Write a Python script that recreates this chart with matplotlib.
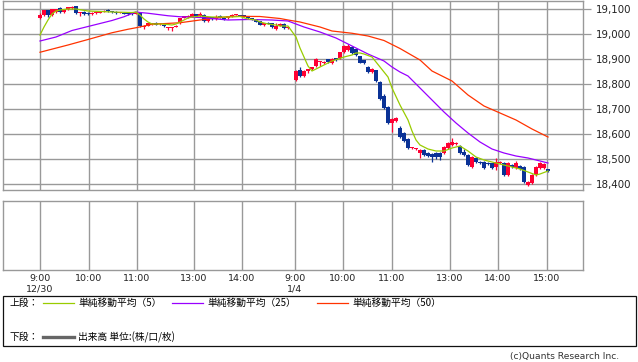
import numpy as np
import matplotlib.pyplot as plt
from matplotlib.patches import Rectangle
from matplotlib.lines import Line2D

plt.rcParams['font.family'] = ['DejaVu Sans']

# 5分足 12/30 (63本)
d1_open = [19064, 19076, 19096, 19076, 19088, 19104, 19088, 19100, 19104, 19112,
           19084, 19088, 19086, 19080, 19084, 19086, 19090, 19094, 19090, 19090,
           19086, 19086, 19084, 19082, 19082, 19086, 19030, 19034, 19040, 19046,
           19040, 19034, 19024, 19026, 19030, 19044, 19066, 19068, 19070, 19080,
           19072, 19078, 19052, 19068, 19060, 19072, 19064, 19064, 19072, 19076,
           19076, 19076, 19070, 19064, 19060, 19052, 19036, 19046, 19044, 19020,
           19034, 19040, 19026]
d1_high = [19084, 19098, 19098, 19100, 19102, 19108, 19102, 19110, 19112, 19114,
           19088, 19092, 19088, 19088, 19090, 19092, 19098, 19100, 19092, 19092,
           19088, 19088, 19086, 19086, 19088, 19088, 19036, 19046, 19046, 19048,
           19044, 19036, 19030, 19030, 19036, 19066, 19074, 19076, 19084, 19082,
           19088, 19080, 19070, 19070, 19076, 19076, 19068, 19074, 19082, 19078,
           19078, 19078, 19072, 19066, 19062, 19054, 19046, 19048, 19046, 19044,
           19046, 19044, 19032]
d1_low = [19060, 19072, 19068, 19074, 19086, 19086, 19086, 19098, 19102, 19080,
          19072, 19078, 19076, 19076, 19082, 19084, 19088, 19090, 19086, 19082,
          19084, 19080, 19078, 19078, 19080, 19030, 19020, 19032, 19038, 19036,
          19036, 19030, 19016, 19012, 19028, 19040, 19064, 19066, 19068, 19070,
          19070, 19048, 19050, 19058, 19058, 19064, 19056, 19062, 19070, 19074,
          19072, 19068, 19062, 19058, 19048, 19036, 19034, 19040, 19026, 19018,
          19032, 19022, 19022]
d1_close = [19076, 19096, 19076, 19100, 19100, 19088, 19100, 19108, 19110, 19084,
            19086, 19080, 19080, 19082, 19086, 19090, 19094, 19092, 19088, 19084,
            19086, 19082, 19080, 19080, 19086, 19032, 19034, 19044, 19044, 19038,
            19040, 19032, 19028, 19028, 19034, 19064, 19072, 19074, 19080, 19072,
            19080, 19052, 19068, 19062, 19070, 19066, 19062, 19072, 19078, 19076,
            19074, 19070, 19064, 19060, 19050, 19038, 19044, 19042, 19028, 19032,
            19042, 19024, 19028]

# 5分足 1/4 (64本)
d2_open = [18816, 18856, 18832, 18852, 18860, 18872, 18888, 18884, 18900, 18884,
           18904, 18904, 18928, 18936, 18950, 18940, 18912, 18896, 18868, 18848,
           18856, 18808, 18752, 18708, 18644, 18652, 18624, 18604, 18580, 18544,
           18540, 18524, 18536, 18524, 18520, 18524, 18524, 18524, 18544, 18556,
           18560, 18552, 18528, 18516, 18468, 18504, 18488, 18488, 18484, 18484,
           18468, 18484, 18484, 18436, 18476, 18464, 18472, 18468, 18396, 18404,
           18436, 18464, 18464, 18460]
d2_high = [18856, 18868, 18856, 18862, 18870, 18904, 18892, 18892, 18902, 18904,
           18906, 18930, 18956, 18960, 18954, 18942, 18914, 18898, 18872, 18864,
           18858, 18812, 18760, 18712, 18664, 18668, 18632, 18608, 18584, 18548,
           18546, 18540, 18540, 18528, 18524, 18528, 18528, 18552, 18568, 18584,
           18568, 18556, 18540, 18520, 18512, 18508, 18492, 18492, 18488, 18486,
           18504, 18492, 18488, 18488, 18480, 18492, 18476, 18472, 18412, 18440,
           18472, 18488, 18484, 18462]
d2_low = [18812, 18828, 18828, 18846, 18856, 18868, 18872, 18880, 18884, 18882,
          18894, 18900, 18924, 18932, 18922, 18912, 18884, 18880, 18844, 18844,
          18808, 18736, 18700, 18640, 18608, 18648, 18584, 18568, 18540, 18540,
          18538, 18504, 18512, 18508, 18488, 18500, 18496, 18520, 18540, 18552,
          18556, 18520, 18512, 18472, 18464, 18484, 18480, 18460, 18476, 18460,
          18456, 18480, 18432, 18432, 18464, 18460, 18456, 18404, 18392, 18400,
          18432, 18460, 18460, 18450]
d2_close = [18852, 18832, 18852, 18860, 18868, 18900, 18890, 18888, 18888, 18900,
            18896, 18928, 18952, 18952, 18926, 18916, 18886, 18884, 18848, 18860,
            18812, 18740, 18704, 18644, 18660, 18664, 18588, 18572, 18544, 18548,
            18544, 18536, 18516, 18512, 18508, 18508, 18508, 18548, 18564, 18568,
            18564, 18524, 18516, 18476, 18508, 18488, 18484, 18464, 18480, 18464,
            18488, 18488, 18436, 18484, 18468, 18484, 18460, 18408, 18408, 18436,
            18468, 18484, 18480, 18452]

# 移動平均 (足番号, 値)
ma5_bar = [0, 1, 2, 3, 4, 5, 7, 9, 12, 18, 23, 24, 25, 26, 27, 28, 30, 32, 33, 34,
           35, 36, 37, 38, 40, 43, 45, 48, 50, 52, 54, 55, 57, 59, 60, 62,
           64, 65, 66, 67, 68, 70, 73, 76, 78, 79, 80, 81, 83, 85, 87, 88, 90, 92,
           93, 94, 95, 97, 99, 101, 103, 105, 107, 109, 111, 114, 117, 120, 122,
           124, 125, 127]
ma5_val = [18996, 19028, 19056, 19080, 19092, 19096, 19100, 19100, 19092, 19088,
           19086, 19088, 19076, 19060, 19048, 19040, 19040, 19038, 19036, 19040,
           19048, 19056, 19064, 19068, 19072, 19068, 19068, 19068, 19070, 19060,
           19056, 19048, 19040, 19036, 19032, 19032,
           18988, 18944, 18908, 18872, 18852, 18868, 18892, 18908, 18916, 18924,
           18924, 18920, 18908, 18868, 18828, 18784, 18716, 18656, 18612, 18576,
           18556, 18540, 18532, 18532, 18544, 18552, 18532, 18508, 18496, 18484,
           18472, 18460, 18448, 18436, 18440, 18452]

ma25_bar = [0, 4, 8, 12, 18, 21, 23, 24, 25, 27, 32, 35, 40, 47, 52, 58, 62,
            64, 66, 70, 74, 78, 82, 86, 88, 90, 92, 95, 98, 101, 104, 107, 110,
            113, 116, 119, 122, 125, 127]
ma25_val = [18972, 18988, 19014, 19030, 19054, 19069, 19082, 19088, 19086, 19083,
            19073, 19069, 19066, 19056, 19058, 19056, 19052,
            19040, 19028, 19008, 18984, 18952, 18920, 18892, 18868, 18848, 18832,
            18784, 18736, 18688, 18644, 18604, 18568, 18540, 18524, 18512, 18504,
            18492, 18484]

ma50_bar = [0, 7, 12, 18, 22, 24, 28, 35, 40, 48, 55, 60, 62,
            65, 70, 73, 78, 82, 86, 90, 95, 98, 103, 107, 111, 115, 119, 123, 127]
ma50_val = [18927, 18956, 18978, 19005, 19019, 19025, 19039, 19045, 19056, 19071,
            19070, 19062, 19056,
            19048, 19028, 19012, 19003, 18992, 18974, 18942, 18896, 18852, 18812,
            18756, 18712, 18684, 18656, 18620, 18588]

tick_pos = [0, 12.25, 24.25, 38.5, 50.5, 63.75, 75.75, 88, 102.5, 114.5, 126.75]
tick_labels = ['9:00\n12/30', '10:00', '11:00', '13:00', '14:00', '9:00\n1/4',
               '10:00', '11:00', '13:00', '14:00', '15:00']

W, H = 638, 362
fig = plt.figure(figsize=(W / 100, H / 100), dpi=100)


def box(x0, y0, x1, y1):
    return [x0 / W, 1 - y1 / H, (x1 - x0) / W, (y1 - y0) / H]


grid_c = '#999999'
ax = fig.add_axes(box(3, 0.5, 583, 190))
ax2 = fig.add_axes(box(3, 201, 583, 270))

# ローソク足
idx = np.concatenate([np.arange(len(d1_open)), np.arange(len(d2_open)) + 64])
o = np.array(d1_open + d2_open)
h = np.array(d1_high + d2_high)
l = np.array(d1_low + d2_low)
c = np.array(d1_close + d2_close)
cols = np.where(c >= o, '#ff0033', '#0a3296')
ax.vlines(idx, l, h, colors=cols, lw=0.9, zorder=3)
body = np.maximum(np.abs(c - o), 3)
ax.bar(idx, body, bottom=np.minimum(o, c), width=0.78, color=cols, lw=0, zorder=3)

ax.plot(ma50_bar, ma50_val, color='#ff3300', lw=0.9, zorder=4)
ax.plot(ma25_bar, ma25_val, color='#9900ff', lw=0.9, zorder=4)
ax.plot(ma5_bar, ma5_val, color='#99cc00', lw=0.9, zorder=5)

for a in (ax, ax2):
    a.set_xlim(-9.25, 135.75)
    a.set_xticks(tick_pos)
    a.grid(axis='x', color=grid_c, lw=1.0)
    a.set_axisbelow(True)
    for s in a.spines.values():
        s.set_color(grid_c)
        s.set_linewidth(1.0)

ax.set_ylim(18376, 19134)
yt = list(range(18400, 19101, 100))
ax.set_yticks(yt)
ax.set_yticklabels([f'{v:,}' for v in yt])
ax.grid(axis='y', color=grid_c, lw=1.0)
ax.yaxis.tick_right()
ax.tick_params(axis='y', length=6, color=grid_c, width=0.9, labelsize=7.4,
               pad=3, labelcolor='#222222')
ax.tick_params(axis='x', length=0, labelbottom=False)

ax2.set_yticks([])
ax2.set_xticklabels(tick_labels)
ax2.tick_params(axis='x', length=0, labelsize=6.8, pad=3, labelcolor='#222222')
for t in ax2.get_xticklabels():
    t.set_linespacing(1.2)

# 凡例
jp = ['Noto Sans CJK JP', 'DejaVu Sans']
fs = 7.0
fig.add_artist(Rectangle((3 / W, 1 - 346 / H), 633 / W, 50 / H, transform=fig.transFigure,
                         fill=False, edgecolor='#111111', lw=0.9))
y1, y2 = 1 - 303 / H, 1 - 337 / H
fig.text(10 / W, y1, '上段：', fontsize=fs, family=jp, va='center')
fig.text(10 / W, y2, '下段：', fontsize=fs, family=jp, va='center')
items = [(43, '#99cc00', '単純移動平均（5）'),
         (172, '#9900ff', '単純移動平均（25）'),
         (317, '#ff3300', '単純移動平均（50）')]
for x0, col, lab in items:
    fig.add_artist(Line2D([x0 / W, (x0 + 31) / W], [y1, y1], color=col, lw=0.9,
                          transform=fig.transFigure))
    fig.text((x0 + 35) / W, y1, lab, fontsize=fs, family=jp, va='center')
fig.add_artist(Line2D([43 / W, 74 / W], [y2, y2], color='#666666', lw=2.4,
                      transform=fig.transFigure))
fig.text(78 / W, y2, '出来高 単位:(株/口/枚)', fontsize=fs, family=jp, va='center')

fig.text(619 / W, 1 - 356 / H, '(c)Quants Research Inc.', fontsize=6.6,
         ha='right', va='center', color='#333333')

fig.savefig('out.png', dpi=100)
